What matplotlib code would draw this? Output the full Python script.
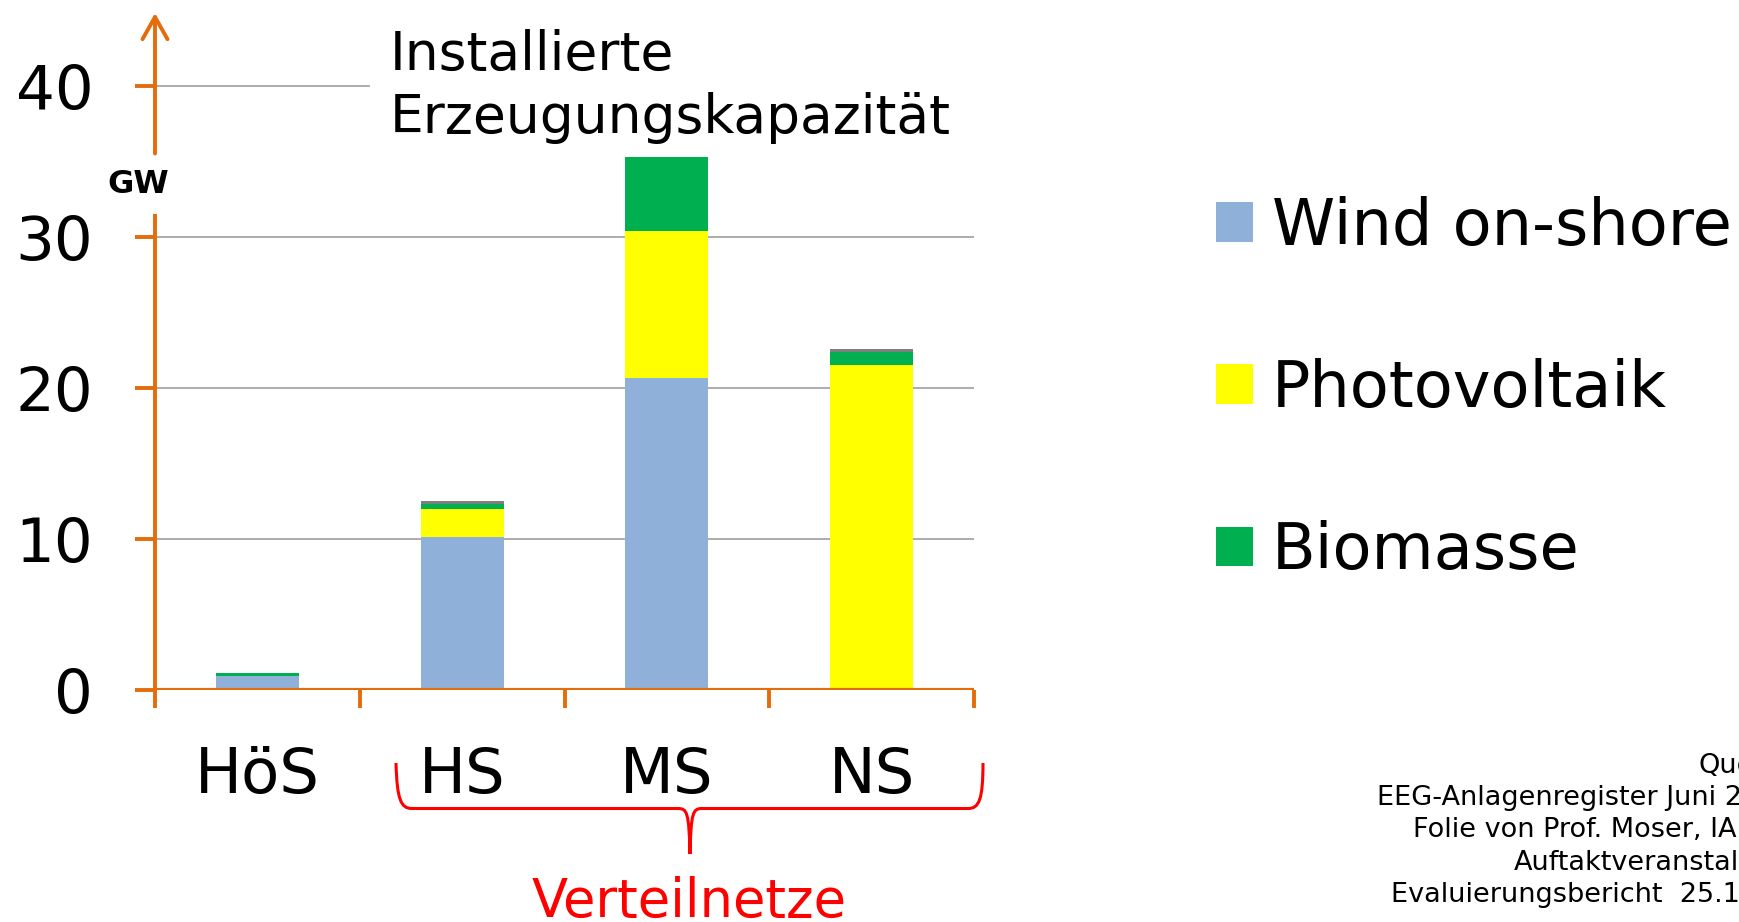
import numpy as np
import matplotlib
matplotlib.use('Agg')
import matplotlib.pyplot as plt
from matplotlib.path import Path
from matplotlib.patches import PathPatch

# data (GW)
kategorien = ['HöS', 'HS', 'MS', 'NS']
wind = [0.93, 10.1, 20.63, 0.15]
photovoltaik = [0.0, 1.87, 9.72, 21.36]
biomasse = [0.18, 0.37, 4.95, 0.88]
sonstige = [0.0, 0.15, 0.0, 0.15]
serien = ['Wind on-shore', 'Photovoltaik', 'Biomasse']
farben = ['#8FB1D9', '#FFFF00', '#00B050']
grau = '#7F7F7F'
orange = '#E46C0A'
y_ticks = [0, 10, 20, 30, 40]
quelle = ['Quelle:', 'EEG-Anlagenregister Juni 2013', 'Folie von Prof. Moser, IAEW',
          'Auftaktveranstaltung', 'Evaluierungsbericht  25.11.2013']

W, H = 1739, 922
fig = plt.figure(figsize=(W / 100, H / 100), dpi=100)
plt.rcParams['font.family'] = 'DejaVu Sans'


def px(x, y):
    # pixel position (from top left) -> figure fraction
    return x / W, 1 - y / H


ax = fig.add_axes([155 / W, 1 - 690 / H, (974 - 155) / W, (690 - 13) / H])
ax.set_xlim(-0.5, 3.5)
ax.set_ylim(0, 44.8)
for s in ax.spines.values():
    s.set_visible(False)

# grid lines
for v in [10, 20, 30]:
    ax.axhline(v, color='#A6A6A6', lw=1.3, zorder=0)
ax.axhline(40, xmin=0, xmax=0.261, color='#A6A6A6', lw=1.3, zorder=0)

# stacked bars
x = np.arange(len(kategorien))
b = 0.405
unten = np.zeros(len(kategorien))
for werte, farbe, name in zip([wind, photovoltaik, biomasse], farben, serien):
    ax.bar(x, werte, b, bottom=unten, color=farbe, label=name, zorder=2)
    unten += np.array(werte)
ax.bar(x, sonstige, b, bottom=unten, color=grau, zorder=2)

# axes in orange: x axis, y axis with gap for "GW" and arrow
ax.axhline(0, color=orange, lw=3.0, zorder=3)
ax.plot([-0.5, -0.5], [0, 31.5], color=orange, lw=2.8, zorder=3, clip_on=False, solid_capstyle='butt')
ax.annotate('', xy=(-0.5, 44.8), xytext=(-0.5, 35.5),
            arrowprops=dict(arrowstyle='->,head_length=0.8,head_width=0.45', color=orange,
                            lw=2.8, mutation_scale=20, shrinkA=0, shrinkB=0),
            annotation_clip=False)
ax.text(-0.58, 33.45, 'GW', fontsize=23, fontweight='bold', ha='center', va='center')

ax.set_yticks(y_ticks)
ax.set_yticklabels([str(v) for v in y_ticks], fontsize=44)
ax.tick_params(axis='y', length=14.5, width=2.8, color=orange, pad=30)

ax.set_xticks(x)
ax.set_xticklabels(kategorien, fontsize=45)
ax.set_xticks(np.arange(-0.5, 4.0, 1.0), minor=True)
ax.tick_params(axis='x', which='major', length=0, pad=40)
ax.tick_params(axis='x', which='minor', length=13, width=2.8, color=orange)

# title
fig.text(*px(390, 133), 'Installierte\nErzeugungskapazität', fontsize=38.5,
         ha='left', va='baseline', linespacing=1.28)

# legend
leg = fig.legend(loc='upper left', bbox_to_anchor=px(1190, 170), frameon=False,
                 fontsize=46, handlelength=0.58, handleheight=0.58, handletextpad=0.3,
                 labelspacing=1.57, borderaxespad=0)

# brace for "Verteilnetze"
verts = [px(396, 763), px(397, 800), px(401, 808.5), px(412, 808.5),
         px(678, 808.5),
         px(687, 808.5), px(689, 812), px(690, 854),
         px(691, 812), px(693, 808.5), px(702, 808.5),
         px(968, 808.5),
         px(979, 808.5), px(983, 800), px(983, 763)]
codes = [Path.MOVETO, Path.CURVE4, Path.CURVE4, Path.CURVE4,
         Path.LINETO,
         Path.CURVE4, Path.CURVE4, Path.CURVE4,
         Path.CURVE4, Path.CURVE4, Path.CURVE4,
         Path.LINETO,
         Path.CURVE4, Path.CURVE4, Path.CURVE4]
fig.patches.append(PathPatch(Path(verts, codes), fill=False, edgecolor='#FF0000', lw=2.2,
                             transform=fig.transFigure, figure=fig))
fig.text(*px(689, 917), 'Verteilnetze', fontsize=38, color='#FF0000', ha='center', va='baseline')

# source note (runs past the right edge as on the slide)
starts = [1699, 1377, 1413, 1514, 1391]
for i, (zeile, x0) in enumerate(zip(quelle, starts)):
    fig.text(*px(x0, 773 + i * 32.2), zeile, fontsize=19.5, ha='left', va='baseline')

fig.savefig('out.png', dpi=100)
